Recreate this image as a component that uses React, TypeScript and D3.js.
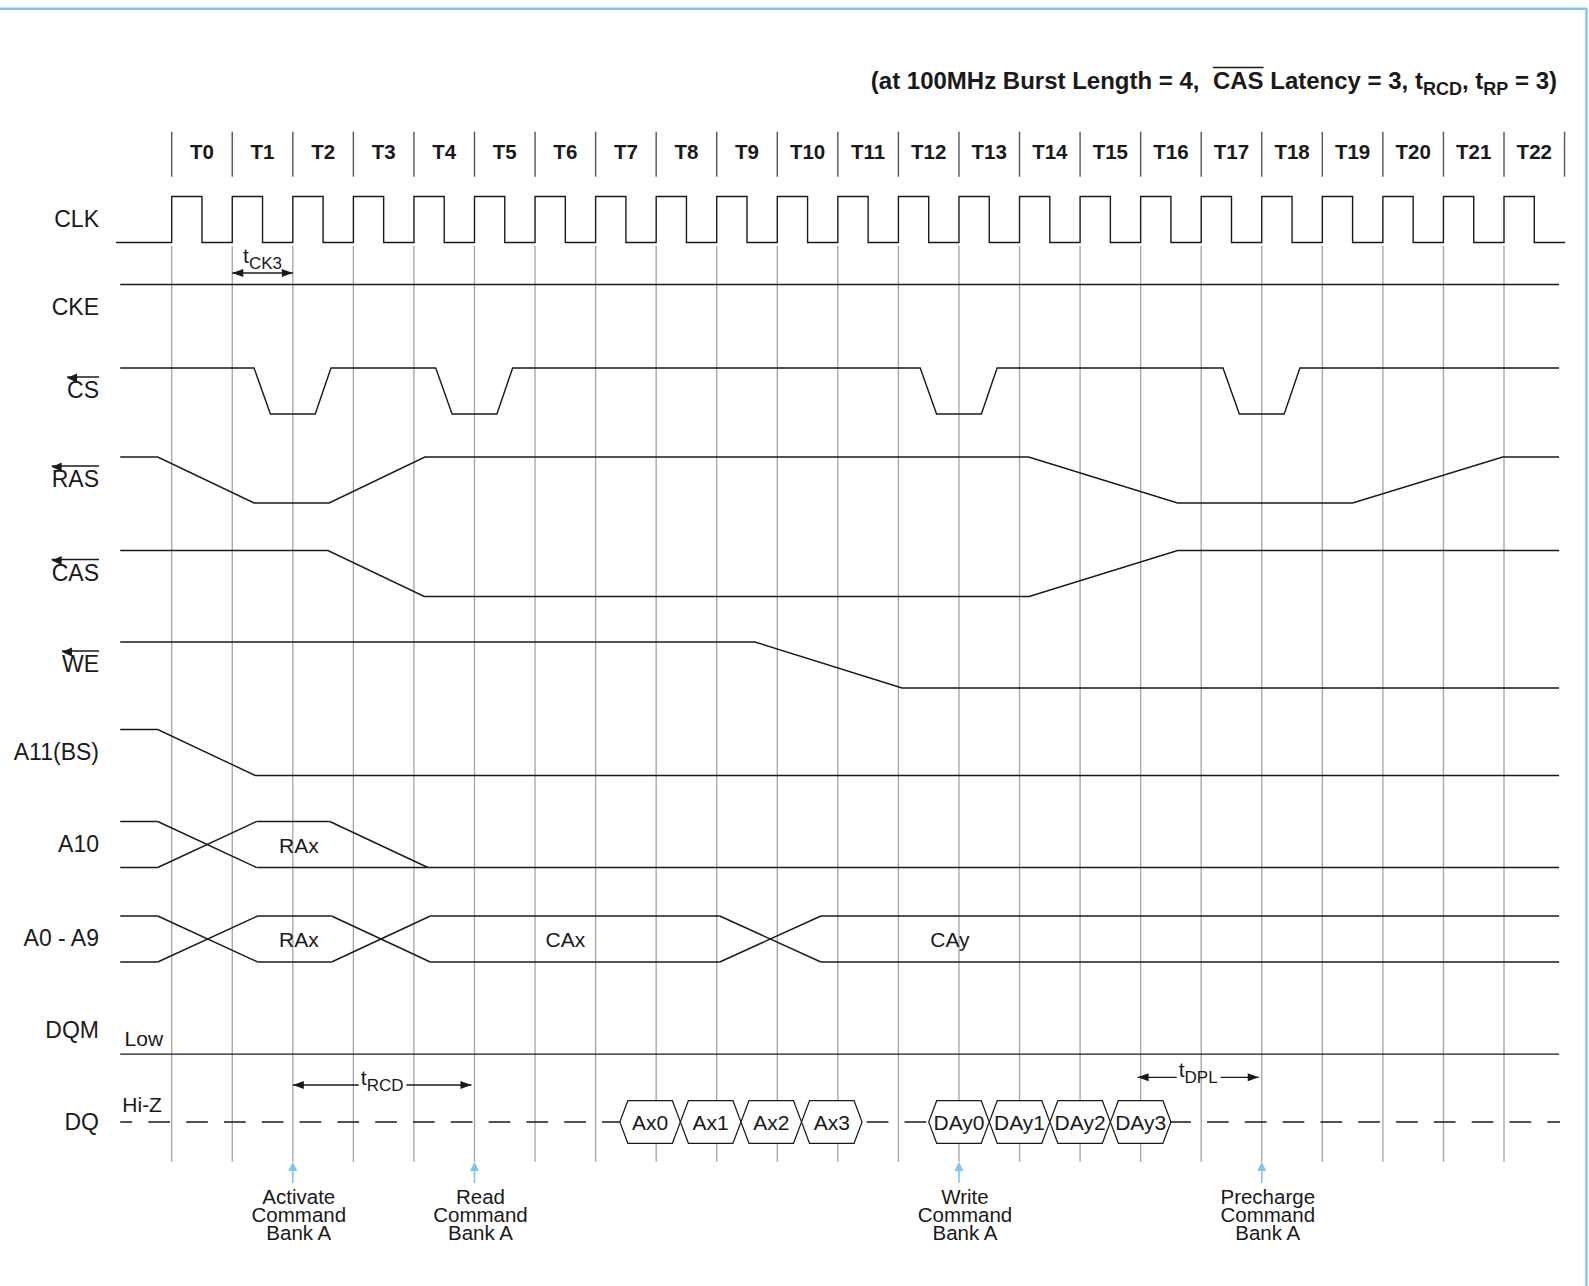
import { useEffect, useRef } from 'react';
import * as d3 from 'd3';

// header tick labels, one per clock cycle
const cycleLabels = [
  'T0', 'T1', 'T2', 'T3', 'T4', 'T5', 'T6', 'T7', 'T8', 'T9', 'T10', 'T11',
  'T12', 'T13', 'T14', 'T15', 'T16', 'T17', 'T18', 'T19', 'T20', 'T21', 'T22',
];

const rowNames = ['CLK', 'CKE', 'CS', 'RAS', 'CAS', 'WE', 'A11(BS)', 'A10', 'A0 - A9', 'DQM', 'DQ'];
const barredRows = ['CS', 'RAS', 'CAS', 'WE'];

// waveforms: [time in clock periods, level] (1 = high, 0 = low)
const ckeWave: [number, number][] = [[-0.85, 1], [22.91, 1]];
const csWave: [number, number][] = [
  [-0.85, 1], [1.36, 1], [1.63, 0], [2.37, 0], [2.63, 1],
  [4.36, 1], [4.63, 0], [5.37, 0], [5.63, 1],
  [12.36, 1], [12.63, 0], [13.37, 0], [13.63, 1],
  [17.36, 1], [17.63, 0], [18.37, 0], [18.63, 1], [22.91, 1],
];
const rasWave: [number, number][] = [
  [-0.85, 1], [-0.23, 1], [1.36, 0], [2.6, 0], [4.18, 1],
  [14.15, 1], [16.61, 0], [19.5, 0], [21.98, 1], [22.91, 1],
];
const casWave: [number, number][] = [
  [-0.85, 1], [2.58, 1], [4.17, 0], [14.16, 0], [16.61, 1], [22.91, 1],
];
const weWave: [number, number][] = [[-0.85, 1], [9.63, 1], [12.06, 0], [22.91, 0]];
const a11Wave: [number, number][] = [[-0.85, 1], [-0.23, 1], [1.38, 0], [22.91, 0]];
const dqmWave: [number, number][] = [[-0.85, 0], [22.91, 0]];

// address buses: crossing windows and labels
const a10Cross: [number, number][] = [[-0.23, 1.4]];
const a10Release: [number, number] = [2.61, 4.23];
const a10Labels = [{ t: 2.1, text: 'RAx' }];
const addrCross: [number, number][] = [[-0.23, 1.42], [2.64, 4.27], [9.05, 10.72]];
const addrLabels = [
  { t: 2.1, text: 'RAx' },
  { t: 6.5, text: 'CAx' },
  { t: 12.85, text: 'CAy' },
];

// DQ bursts
const readWords = ['Ax0', 'Ax1', 'Ax2', 'Ax3'];
const readBounds = [7.4, 8.4, 9.4, 10.4, 11.4];
const writeWords = ['DAy0', 'DAy1', 'DAy2', 'DAy3'];
const writeBounds = [12.5, 13.5, 14.5, 15.5, 16.5];

// commands
const commandAt = [2, 5, 13, 18];
const commandText = [
  ['Activate', 'Command', 'Bank A'],
  ['Read', 'Command', 'Bank A'],
  ['Write', 'Command', 'Bank A'],
  ['Precharge', 'Command', 'Bank A'],
];

// timing parameters
const timingNames = ['CK3', 'RCD', 'DPL'];
const timingFrom = [1, 2, 15.95];
const timingTo = [2, 4.95, 17.95];

const font = "'Liberation Sans', Arial, sans-serif";
const blue = '#80c4f4';
const ink = '#1a1a1a';

export default function App() {
  const ref = useRef<SVGSVGElement>(null);

  useEffect(() => {
    const svg = d3.select(ref.current);
    svg.selectAll('*').remove();

    const x = d3.scaleLinear().domain([0, 22]).range([171.7, 1504]);
    const rowY = d3
      .scaleOrdinal<string, number>()
      .domain(rowNames)
      .range([218, 306, 389.5, 478.5, 572, 663.5, 751, 843, 937.5, 1029.6, 1121]);
    const hi = (r: string) => rowY(r) - 21.5;
    const lo = (r: string) => rowY(r) + 24.5;

    // frame
    svg.append('line').attr('x1', 0).attr('x2', 1587).attr('y1', 8.7).attr('y2', 8.7)
      .attr('stroke', blue).attr('stroke-width', 2.5);
    svg.append('line').attr('x1', 1586.5).attr('x2', 1586.5).attr('y1', 8).attr('y2', 1286)
      .attr('stroke', blue).attr('stroke-width', 2.5);

    // title
    const title = svg.append('text')
      .attr('x', 1557).attr('y', 89)
      .attr('text-anchor', 'end')
      .style('white-space', 'pre')
      .attr('font-family', font).attr('font-weight', 'bold').attr('font-size', 24)
      .attr('fill', ink);
    title.append('tspan').text('(at 100MHz Burst Length = 4,  ');
    const casSpan = title.append('tspan').text('CAS');
    title.append('tspan').text(' Latency = 3, t');
    title.append('tspan').attr('font-size', 18).attr('dy', 6).text('RCD');
    title.append('tspan').attr('dy', -6).text(', t');
    title.append('tspan').attr('font-size', 18).attr('dy', 6).text('RP');
    title.append('tspan').attr('dy', -6).text(' = 3)');
    const cb = (casSpan.node() as SVGTSpanElement).getBBox();
    svg.append('line').attr('x1', cb.x).attr('x2', cb.x + cb.width)
      .attr('y1', cb.y + 0.5).attr('y2', cb.y + 0.5)
      .attr('stroke', ink).attr('stroke-width', 1.5);

    // header
    const header = svg.append('g');
    header.selectAll('line')
      .data([...cycleLabels, 'end'])
      .enter()
      .append('line')
      .attr('x1', (d, i) => x(i)).attr('x2', (d, i) => x(i))
      .attr('y1', 131.7).attr('y2', 176.7)
      .attr('stroke', '#555').attr('stroke-width', 1.4);
    header.selectAll('text')
      .data(cycleLabels)
      .enter()
      .append('text')
      .attr('x', (d, i) => x(i + 0.5))
      .attr('y', 159)
      .attr('text-anchor', 'middle')
      .attr('font-family', font).attr('font-weight', 'bold').attr('font-size', 20.5)
      .attr('fill', ink)
      .text(d => d);

    // grid at rising edges
    svg.append('g').selectAll('line')
      .data(cycleLabels)
      .enter()
      .append('line')
      .attr('x1', (d, i) => x(i)).attr('x2', (d, i) => x(i))
      .attr('y1', 245.7).attr('y2', 1161.7)
      .attr('stroke', '#a3a3a3').attr('stroke-width', 1.3);

    // row labels
    const labels = svg.append('g')
      .attr('font-family', font).attr('font-size', 23).attr('fill', ink);
    rowNames.forEach(r => {
      const t = labels.append('text')
        .attr('x', 99).attr('y', rowY(r) + 8.5)
        .attr('text-anchor', 'end')
        .text(r);
      if (barredRows.includes(r)) {
        const b = (t.node() as SVGTextElement).getBBox();
        const yb = rowY(r) + 8.5 - 21;
        labels.append('line').attr('x1', b.x).attr('x2', b.x + b.width)
          .attr('y1', yb).attr('y2', yb).attr('stroke', ink).attr('stroke-width', 1.5);
        labels.append('path')
          .attr('d', `M${b.x},${yb + 1}L${b.x + 10},${yb - 3.5}L${b.x + 10},${yb + 5.5}Z`)
          .attr('fill', ink);
      }
    });

    const sig = svg.append('g').attr('fill', 'none').attr('stroke', ink).attr('stroke-width', 1.4);

    // clock
    const clkPts: [number, number][] = [[-0.92, 0]];
    cycleLabels.forEach((d, i) => {
      clkPts.push([i, 0], [i, 1], [i + 0.5, 1], [i + 0.5, 0]);
    });
    clkPts.push([23.01, 0]);
    sig.append('path')
      .attr('d', d3.line<[number, number]>().x(d => x(d[0])).y(d => (d[1] ? hi('CLK') : lo('CLK')))(clkPts));

    const drawWave = (row: string, wave: [number, number][]) => {
      sig.append('path')
        .attr('d', d3.line<[number, number]>().x(d => x(d[0])).y(d => (d[1] ? hi(row) : lo(row)))(wave));
    };
    drawWave('CKE', ckeWave);
    drawWave('CS', csWave);
    drawWave('RAS', rasWave);
    drawWave('CAS', casWave);
    drawWave('WE', weWave);
    drawWave('A11(BS)', a11Wave);
    drawWave('DQM', dqmWave);

    // buses
    const seg = (t0: number, y0: number, t1: number, y1: number) =>
      sig.append('line').attr('x1', x(t0)).attr('y1', y0).attr('x2', x(t1)).attr('y2', y1);
    const drawBus = (
      row: string,
      cross: [number, number][],
      release: [number, number] | null,
      lbls: { t: number; text: string }[]
    ) => {
      const top = hi(row);
      const bot = lo(row);
      let prev = -0.85;
      cross.forEach(([a, b]) => {
        seg(prev, top, a, top);
        seg(prev, bot, a, bot);
        seg(a, top, b, bot);
        seg(a, bot, b, top);
        prev = b;
      });
      if (release) {
        seg(prev, top, release[0], top);
        seg(release[0], top, release[1], bot);
      } else {
        seg(prev, top, 22.91, top);
      }
      seg(prev, bot, 22.91, bot);
      lbls.forEach(l => {
        svg.append('text')
          .attr('x', x(l.t)).attr('y', (top + bot) / 2 + 8)
          .attr('text-anchor', 'middle')
          .attr('font-family', font).attr('font-size', 21).attr('fill', ink)
          .text(l.text);
      });
    };
    drawBus('A10', a10Cross, a10Release, a10Labels);
    drawBus('A0 - A9', addrCross, null, addrLabels);

    // DQ: Hi-Z dashed, then data bursts
    const dqY = rowY('DQ') + 1;
    svg.append('line')
      .attr('x1', x(-0.85)).attr('x2', 1560).attr('y1', dqY).attr('y2', dqY)
      .attr('stroke', ink).attr('stroke-width', 1.3)
      .attr('stroke-dasharray', '21.7 16.11')
      .attr('stroke-dashoffset', 9.7);
    const drawBurst = (words: string[], bounds: number[]) => {
      words.forEach((w, i) => {
        const x0 = x(bounds[i]);
        const x1 = x(bounds[i + 1]);
        const s = 8;
        const h = 21.3;
        svg.append('path')
          .attr('d', `M${x0},${dqY}L${x0 + s},${dqY - h}L${x1 - s},${dqY - h}L${x1},${dqY}L${x1 - s},${dqY + h}L${x0 + s},${dqY + h}Z`)
          .attr('fill', '#fff').attr('stroke', ink).attr('stroke-width', 1.2);
        svg.append('text')
          .attr('x', (x0 + x1) / 2).attr('y', dqY + 7.5)
          .attr('text-anchor', 'middle')
          .attr('font-family', font).attr('font-size', 21).attr('fill', ink)
          .text(w);
      });
    };
    drawBurst(readWords, readBounds);
    drawBurst(writeWords, writeBounds);

    svg.append('text').attr('x', 124.6).attr('y', lo('DQM') - 8.5)
      .attr('font-family', font).attr('font-size', 21).attr('fill', ink).text('Low');
    svg.append('text').attr('x', 122.3).attr('y', dqY - 10)
      .attr('font-family', font).attr('font-size', 21).attr('fill', ink).text('Hi-Z');

    // timing arrows
    const head = (xt: number, y: number, dir: number) =>
      svg.append('path')
        .attr('d', `M${xt},${y}L${xt + dir * 11},${y - 4}L${xt + dir * 11},${y + 4}Z`)
        .attr('fill', ink);
    const timingY = [hi('CLK') + 76.5, dqY - 37, dqY - 44.7];
    timingNames.forEach((name, i) => {
      const xa = x(timingFrom[i]);
      const xb = x(timingTo[i]);
      const y = timingY[i];
      const above = i === 0;
      const lbl = svg.append('text')
        .attr('x', (xa + xb) / 2).attr('y', above ? y - 10 : y)
        .attr('text-anchor', 'middle')
        .attr('font-family', font).attr('font-size', 21).attr('fill', ink);
      lbl.append('tspan').text('t');
      lbl.append('tspan').attr('font-size', 17).attr('dy', 6).text(name);
      head(xa, y, 1);
      head(xb, y, -1);
      if (above) {
        svg.append('line').attr('x1', xa).attr('x2', xb).attr('y1', y).attr('y2', y)
          .attr('stroke', ink).attr('stroke-width', 1.3);
      } else {
        const b = (lbl.node() as SVGTextElement).getBBox();
        svg.append('line').attr('x1', xa).attr('x2', b.x - 2).attr('y1', y).attr('y2', y)
          .attr('stroke', ink).attr('stroke-width', 1.3);
        svg.append('line').attr('x1', b.x + b.width + 3).attr('x2', xb).attr('y1', y).attr('y2', y)
          .attr('stroke', ink).attr('stroke-width', 1.3);
      }
    });

    // command markers
    commandAt.forEach((t, i) => {
      const xc = x(t);
      svg.append('line').attr('x1', xc).attr('x2', xc).attr('y1', 1168).attr('y2', 1183)
        .attr('stroke', blue).attr('stroke-width', 1.6);
      svg.append('path')
        .attr('d', `M${xc},${1161.7}L${xc - 4.5},${1171}L${xc + 4.5},${1171}Z`)
        .attr('fill', blue);
      const txt = svg.append('text')
        .attr('text-anchor', 'middle')
        .attr('font-family', font).attr('font-size', 20.5).attr('fill', ink);
      commandText[i].forEach((line, j) => {
        txt.append('tspan').attr('x', xc + 6).attr('y', 1203.5 + j * 18.2).text(line);
      });
    });
  }, []);

  return (
    <svg
      ref={ref}
      width={1589}
      height={1286}
      style={{ position: 'absolute', left: 0, top: 0, background: '#fff' }}
    />
  );
}
